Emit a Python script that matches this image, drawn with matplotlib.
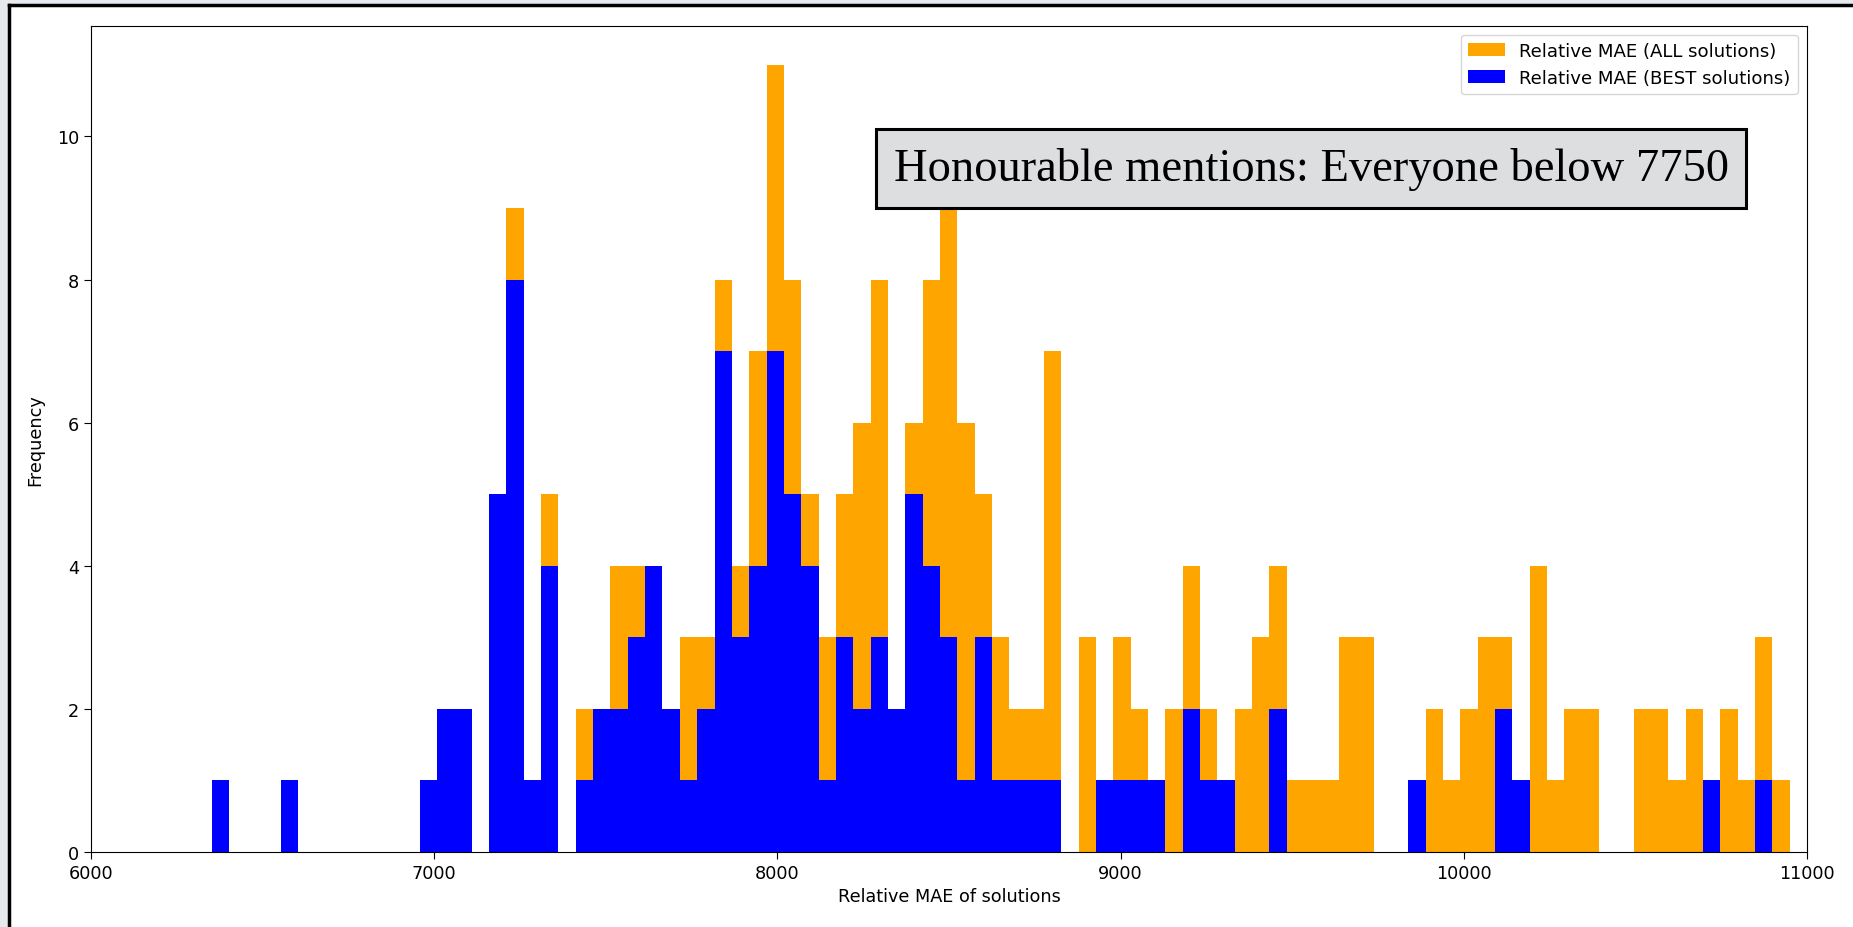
import numpy as np
import matplotlib
matplotlib.use("Agg")
import matplotlib.pyplot as plt
from matplotlib.lines import Line2D
from matplotlib.patches import Rectangle

# Histogram bins shared by both series
bin_start = 6351.4
bin_width = 50.53
n_bins = 91

# Counts per bin: every submitted solution
all_counts = [
    1, 0, 0, 0, 1, 0, 0, 0, 0, 0,
    0, 0, 1, 2, 2, 0, 5, 9, 1, 5,
    0, 2, 2, 4, 4, 4, 2, 3, 3, 8,
    4, 7, 11, 8, 5, 3, 5, 6, 8, 2,
    6, 8, 9, 6, 5, 3, 2, 2, 7, 0,
    3, 1, 3, 2, 1, 2, 4, 2, 1, 2,
    3, 4, 1, 1, 1, 3, 3, 0, 0, 1,
    2, 1, 2, 3, 3, 1, 4, 1, 2, 2,
    0, 0, 2, 2, 1, 2, 1, 2, 1, 3, 1,
]

# Counts per bin: best solution of each participant
best_counts = [
    1, 0, 0, 0, 1, 0, 0, 0, 0, 0,
    0, 0, 1, 2, 2, 0, 5, 8, 1, 4,
    0, 1, 2, 2, 3, 4, 2, 1, 2, 7,
    3, 4, 7, 5, 4, 1, 3, 2, 3, 2,
    5, 4, 3, 1, 3, 1, 1, 1, 1, 0,
    0, 1, 1, 1, 1, 0, 2, 1, 1, 0,
    0, 2, 0, 0, 0, 0, 0, 0, 0, 1,
    0, 0, 0, 0, 2, 1, 0, 0, 0, 0,
    0, 0, 0, 0, 0, 0, 1, 0, 0, 1, 0,
]

x_ticks = [6000, 7000, 8000, 9000, 10000, 11000]
y_ticks = [0, 2, 4, 6, 8, 10]
label_all = "Relative MAE (ALL solutions)"
label_best = "Relative MAE (BEST solutions)"
note_text = "Honourable mentions: Everyone below 7750"

edges = bin_start + bin_width * np.arange(n_bins + 1)
centers = edges[:-1] + bin_width / 2

W, H = 1853, 928
fig = plt.figure(figsize=(W / 100, H / 100), dpi=100)
fig.patch.set_facecolor("white")

# window frame around the figure
fig.add_artist(Rectangle((0, 0), 1, 1, transform=fig.transFigure,
                         facecolor="#e6eaef", edgecolor="none", zorder=-10))
fig.add_artist(Rectangle((9 / W, 0), 1 - 9 / W, 1 - 6 / H, transform=fig.transFigure,
                         facecolor="white", edgecolor="none", zorder=-9))
fig.add_artist(Line2D([9 / W, 9 / W], [0, 1 - 6 / H], transform=fig.transFigure,
                      color="black", linewidth=2.5))
fig.add_artist(Line2D([9 / W, 1], [1 - 6 / H, 1 - 6 / H], transform=fig.transFigure,
                      color="black", linewidth=2.5))

ax = fig.add_axes([91 / W, 1 - 853 / H, (1807 - 91) / W, (853 - 26.5) / H])

ax.hist(centers, bins=edges, weights=all_counts, color="orange", label=label_all)
ax.hist(centers, bins=edges, weights=best_counts, color="blue", label=label_best)

ax.set_xlim(6000, 11000)
ax.set_xticks(x_ticks)
ax.set_yticks(y_ticks)
ax.tick_params(labelsize=12.7, length=5)
ax.set_xlabel("Relative MAE of solutions", fontsize=12.7)
ax.set_ylabel("Frequency", fontsize=12.7, labelpad=9)

ax.legend(loc="upper right", fontsize=13.1, handlelength=2.0)

ax.text(0.711, 0.827, note_text, transform=ax.transAxes, ha="center", va="center",
        fontsize=33.5, family="Liberation Serif",
        bbox=dict(boxstyle="square,pad=0.38", facecolor="#dddee0",
                  edgecolor="black", linewidth=2.2))

fig.savefig("out.png", dpi=100)
